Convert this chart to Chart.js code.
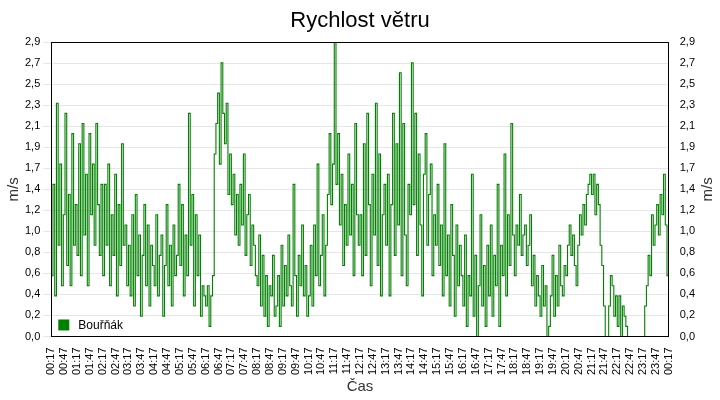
<!DOCTYPE html>
<html><head><meta charset="utf-8">
<script src="https://cdn.jsdelivr.net/npm/chart.js@4"></script>
<style>body{margin:0;background:#fff}#w{width:720px;height:400px}</style>
</head><body><div id="w"><canvas id="c"></canvas></div>
<script>
const stepMinutes = 4;
const seriesName = "Bouřňák";
const windSpeed = [
0.6,1.5,0.4,2.3,0.9,1.7,0.5,1.2,2.2,0.7,1.4,0.5,2.0,0.9,1.3,
0.8,1.9,0.6,2.1,1.0,1.6,0.5,2.0,1.2,1.7,0.9,2.1,1.3,0.8,1.5,
0.6,1.5,0.9,1.7,0.5,1.2,0.8,1.6,0.4,1.3,0.7,1.9,0.9,1.1,0.5,
0.9,0.4,1.2,0.3,1.4,0.6,1.0,0.2,0.8,1.3,0.5,1.1,0.3,0.9,0.7,
0.5,1.2,0.4,0.8,1.0,0.2,0.7,1.3,0.5,0.9,0.3,1.1,0.6,0.8,1.5,
0.7,1.3,0.4,1.0,0.6,2.2,0.9,1.4,0.3,1.2,0.6,1.0,0.2,0.5,0.4,
0.3,0.5,0.1,0.4,0.6,1.8,2.1,2.4,1.7,2.7,2.2,1.9,2.3,1.4,1.8,
1.3,1.6,1.0,1.4,0.9,1.5,1.1,1.8,0.8,1.2,1.4,0.7,1.1,0.9,0.6,
0.5,1.0,0.3,0.8,0.2,0.6,0.1,0.5,0.4,0.8,0.2,0.3,0.6,0.1,0.9,
0.3,0.7,0.4,1.0,0.5,0.3,1.5,0.6,0.2,0.8,0.5,1.1,0.4,0.7,0.2,
0.4,0.9,0.3,1.1,0.6,1.7,0.5,0.8,1.2,0.4,0.9,1.4,2.0,1.3,1.7,
2.9,1.5,2.0,1.1,1.6,0.7,1.3,0.9,1.8,1.0,1.5,0.6,2.1,1.2,0.9,
1.2,0.6,1.9,0.8,2.2,1.3,0.5,1.6,1.0,2.3,0.7,1.8,0.4,1.2,1.5,
0.9,1.6,0.4,1.3,2.2,0.8,1.9,1.1,2.6,0.6,2.1,1.0,0.5,1.5,1.2,
2.7,1.3,2.2,0.8,1.8,1.1,0.4,1.6,2.0,0.9,1.4,1.7,0.6,1.2,0.9,
1.5,0.7,1.1,0.4,1.9,0.6,1.0,0.3,1.3,0.8,0.2,1.1,0.5,0.9,0.6,
0.3,1.0,0.1,0.6,0.4,1.6,0.2,0.8,0.0,0.5,1.2,0.3,0.7,0.1,0.9,
0.4,1.1,0.2,0.8,0.5,1.5,0.1,0.9,0.6,1.8,0.4,1.2,0.7,2.1,1.0,
0.6,1.1,0.9,1.4,0.8,1.0,1.1,0.7,0.9,1.2,0.5,0.8,0.3,0.6,0.4,
0.2,0.7,0.3,0.5,0.0,0.1,0.4,0.8,0.2,0.6,0.3,0.9,0.5,0.4,0.7,
0.6,0.9,1.1,0.8,1.0,0.7,0.5,0.9,1.2,1.0,1.3,1.1,1.4,1.5,1.6,
1.4,1.6,1.2,1.5,1.3,0.9,0.7,0.3,0.0,0.0,0.3,0.6,0.5,0.2,0.4,
0.1,0.4,0.0,0.3,0.2,0.1,0.0,0.0,0.0,0.0,0.0,0.0,0.0,0.0,0.0,
0.0,0.3,0.5,0.8,0.6,1.2,0.9,1.1,1.3,1.0,1.4,1.2,1.6,1.1,0.6,
0.6];
const yMax = 2.9, yTickCount = 15;
const startMin = 17;
function fmtTime(m){m=(m+startMin)%1440;const h=Math.floor(m/60),mm=m%60;return String(h).padStart(2,'0')+':'+String(mm).padStart(2,'0');}
const pts = windSpeed.map((v,i)=>({x:i*stepMinutes,y:v}));
const F = "'Liberation Sans', Arial, sans-serif";
function yTicks(axis){axis.ticks=[];for(let i=0;i<yTickCount;i++)axis.ticks.push({value:i*yMax/(yTickCount-1)});}
const yCommon = {min:0,max:yMax,afterBuildTicks:yTicks,
  ticks:{color:'#000',font:{family:F,size:11},callback:v=>v.toFixed(1).replace('.',','),padding:3},
  border:{color:'#000'}};
const decor={id:'decor',afterDatasetsDraw(c){const a=c.chartArea,x=c.ctx;x.save();
  x.strokeStyle='#000';x.lineWidth=1;x.strokeRect(Math.round(a.left)+0.5,Math.round(a.top)+0.5,Math.round(a.right-a.left),Math.round(a.bottom-a.top));
  x.fillStyle='#008000';x.fillRect(a.left+7,a.bottom-17,11,11);x.fillStyle='#000';x.font="12px "+F;x.textBaseline='middle';x.fillText(seriesName,a.left+27,a.bottom-11);
  x.fillStyle='#333';x.font="15px "+F;x.textAlign='center';x.textBaseline='middle';
  const cy=(a.top+a.bottom)/2;
  [[14,cy],[c.width-12,cy]].forEach(([px,py])=>{x.save();x.translate(px,py);x.rotate(-Math.PI/2);x.fillText('m/s',0,0);x.restore();});
  x.restore();}};
new Chart(document.getElementById('c'),{type:'line',
 data:{datasets:[{data:pts,borderColor:'#008000',borderWidth:1.1,pointRadius:0,stepped:true,fill:false}]},
 options:{responsive:true,maintainAspectRatio:false,animation:false,
  layout:{padding:{left:22,right:22,top:0,bottom:4}},
  plugins:{legend:{display:false},tooltip:{enabled:false},
   title:{display:true,text:'Rychlost větru',color:'#000',font:{family:F,size:22,weight:'normal'},padding:{top:8,bottom:8}}},
  scales:{
   x:{type:'linear',min:0,max:1440,grid:{display:false},border:{color:'#000'},
    ticks:{stepSize:30,autoSkip:false,maxRotation:90,minRotation:90,color:'#000',font:{family:F,size:11},callback:v=>fmtTime(v)},
    title:{display:true,text:'Čas',color:'#333',font:{family:F,size:15},padding:0}},
   y:Object.assign({position:'left',grid:{color:'#e6e6e6'}},yCommon),
   y2:Object.assign({position:'right',grid:{display:false}},yCommon)
  }}, plugins:[decor]});
</script></body></html>
